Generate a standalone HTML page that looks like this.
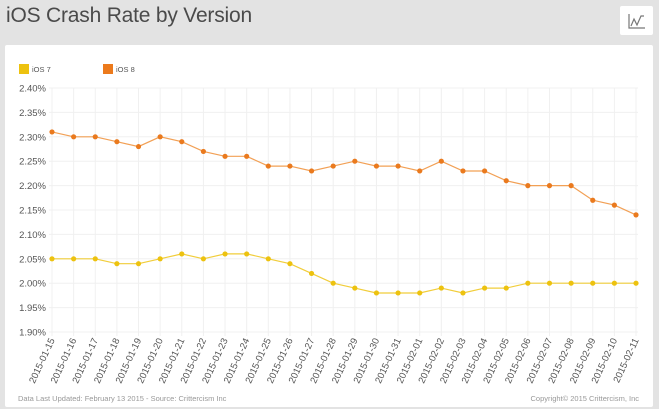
<!DOCTYPE html>
<html><head><meta charset="utf-8"><style>
body{margin:0;width:659px;height:409px;background:#e3e3e3;font-family:"Liberation Sans",sans-serif;overflow:hidden;position:relative}
h1{position:absolute;left:6px;top:4px;margin:0;font-weight:normal;font-size:21px;color:#4a4a4a;letter-spacing:-0.2px}
.icon{position:absolute;left:620px;top:6px;width:33px;height:29px;background:#fff;border-radius:2px}
.panel{position:absolute;left:5px;top:45px;width:648px;height:362px;background:#fff;border-radius:2px}
</style></head><body>
<h1>iOS Crash Rate by Version</h1>
<div class="icon"><svg width="33" height="29"><path d="M9 8 V22 H25" stroke="#777" fill="none" stroke-width="1.2"/><path d="M11 20 L14 13 L17 19 L21 10 L24 10" stroke="#777" fill="none" stroke-width="1.2"/></svg></div>
<div class="panel"></div>
<svg id="c" width="659" height="409" style="position:absolute;left:0;top:0" font-family="Liberation Sans, sans-serif"></svg>
<script>
var s=document.getElementById('c'),h='';
var i8=[2.31,2.30,2.30,2.29,2.28,2.30,2.29,2.27,2.26,2.26,2.24,2.24,2.23,2.24,2.25,2.24,2.24,2.23,2.25,2.23,2.23,2.21,2.20,2.20,2.20,2.17,2.16,2.14];
var i7=[2.05,2.05,2.05,2.04,2.04,2.05,2.06,2.05,2.06,2.06,2.05,2.04,2.02,2.00,1.99,1.98,1.98,1.98,1.99,1.98,1.99,1.99,2.00,2.00,2.00,2.00,2.00,2.00];
function X(i){return 52+i*21.63}function Y(v){return 88+(2.40-v)/0.05*24.4}
for(var k=0;k<=10;k++){var y=88+k*24.4;h+='<line x1="49" x2="638" y1="'+y+'" y2="'+y+'" stroke="#f0f0f0"/>';
h+='<text x="46" y="'+(y+3.5)+'" font-size="9.5" fill="#555" text-anchor="end">'+(2.40-k*0.05).toFixed(2)+'%</text>';}
var d=['01-15','01-16','01-17','01-18','01-19','01-20','01-21','01-22','01-23','01-24','01-25','01-26','01-27','01-28','01-29','01-30','01-31','02-01','02-02','02-03','02-04','02-05','02-06','02-07','02-08','02-09','02-10','02-11'];
for(var i=0;i<28;i++){var x=X(i);h+='<line x1="'+x+'" x2="'+x+'" y1="88" y2="336" stroke="#f0f0f0"/>';
h+='<text transform="translate('+(x+3)+',340) rotate(-65)" font-size="9.5" fill="#555" text-anchor="end">2015-'+d[i]+'</text>';}
function ser(a,c,lc){var p=a.map(function(v,i){return X(i).toFixed(1)+','+Y(v).toFixed(1)}).join(' ');
h+='<polyline points="'+p+'" fill="none" stroke="'+lc+'" stroke-width="1.2"/>';
a.forEach(function(v,i){h+='<circle cx="'+X(i)+'" cy="'+Y(v)+'" r="2.6" fill="'+c+'"/>'});}
ser(i8,'#ea7a1e','#f2a055');ser(i7,'#edc20f','#f1cd3a');
h+='<rect x="19" y="64" width="10" height="10" fill="#edc20f"/><text x="32" y="72" font-size="7.5" fill="#555">iOS 7</text>';
h+='<rect x="103" y="64" width="10" height="10" fill="#ec7a1c"/><text x="116" y="72" font-size="7.5" fill="#555">iOS 8</text>';
h+='<text x="18" y="401" font-size="7.5" fill="#999">Data Last Updated: February 13 2015 - Source: Crittercism Inc</text>';
h+='<text x="639" y="401" font-size="7.5" fill="#999" text-anchor="end">Copyright© 2015 Crittercism, Inc</text>';
s.innerHTML=h;
</script>
</body></html>
